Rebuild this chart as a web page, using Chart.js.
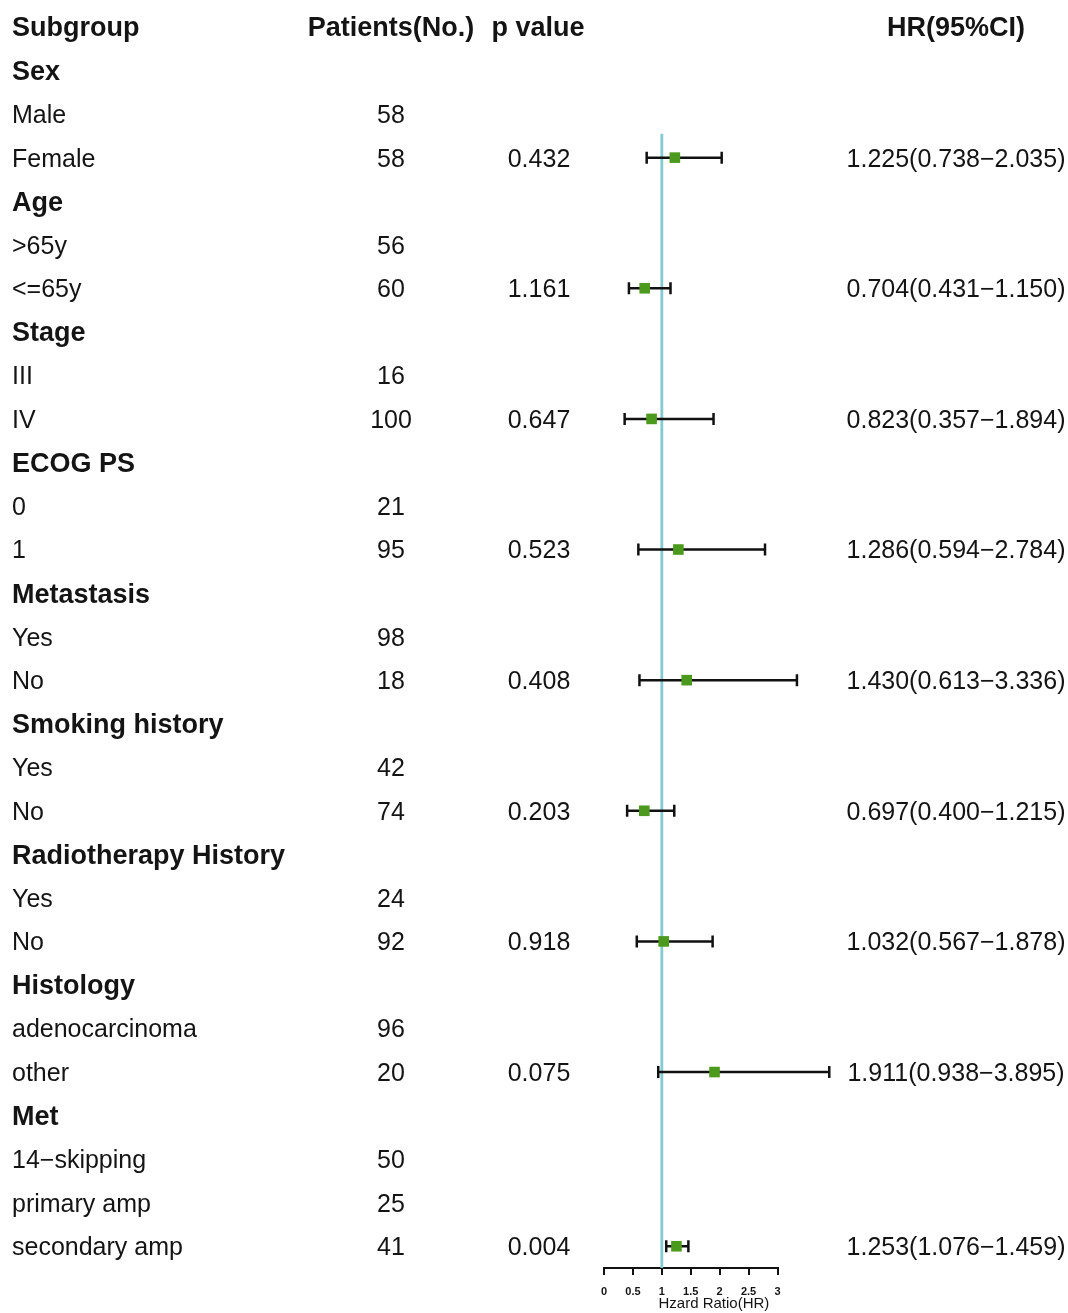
<!DOCTYPE html>
<html>
<head>
<meta charset="utf-8">
<title>Subgroup forest plot</title>
<script src="https://cdn.jsdelivr.net/npm/chart.js@4.4.1/dist/chart.umd.min.js"></script>
<style>
  html, body { margin: 0; padding: 0; background: #ffffff; }
  #wrap { position: relative; width: 1068px; height: 1313px; }
</style>
</head>
<body>
<div id="wrap"><canvas id="forest" width="1068" height="1313"></canvas></div>
<script>
// Table rows (row 0 is the column header line)
const rowLabels = ['Sex', 'Male', 'Female', 'Age', '>65y', '<=65y', 'Stage', 'III', 'IV',
  'ECOG PS', '0', '1', 'Metastasis', 'Yes', 'No', 'Smoking history', 'Yes', 'No',
  'Radiotherapy History', 'Yes', 'No', 'Histology', 'adenocarcinoma', 'other',
  'Met', '14\u2212skipping', 'primary amp', 'secondary amp'];
const headingRows = [1, 4, 7, 10, 13, 16, 19, 22, 25];
const patients = ['', '58', '58', '', '56', '60', '', '16', '100', '', '21', '95', '',
  '98', '18', '', '42', '74', '', '24', '92', '', '96', '20', '', '50', '25', '41'];

// Estimates: table row, p value, hazard ratio and 95% CI
const estRows = [3, 6, 9, 12, 15, 18, 21, 24, 28];
const pValues = ['0.432', '1.161', '0.647', '0.523', '0.408', '0.203', '0.918', '0.075', '0.004'];
const hr = [1.225, 0.704, 0.823, 1.286, 1.430, 0.697, 1.032, 1.911, 1.253];
const ciLow = [0.738, 0.431, 0.357, 0.594, 0.613, 0.400, 0.567, 0.938, 1.076];
const ciHigh = [2.035, 1.150, 1.894, 2.784, 3.336, 1.215, 1.878, 3.895, 1.459];

const xTicks = [0, 0.5, 1, 1.5, 2, 2.5, 3];
const headers = ['Subgroup', 'Patients(No.)', 'p value', 'HR(95%CI)'];
const xTitle = 'Hzard Ratio(HR)';

const FONT = '"Liberation Sans", Arial, Helvetica, sans-serif';
const TEXT = '#141414';
const TEXT_SHIFT = 2; // optical centring of the table text on each row

const points = hr.map((v, i) => ({ x: v, y: estRows[i] }));

// Draws the CI whiskers with end caps (below the squares)
const ciPlugin = {
  id: 'ciBars',
  afterDatasetDraw(chart, args) {
    if (args.index !== 1) return;
    const xs = chart.scales.x, ys = chart.scales.y, ctx = chart.ctx;
    ctx.save();
    ctx.strokeStyle = '#111111';
    ctx.lineWidth = 2.5;
    ctx.lineCap = 'butt';
    hr.forEach((v, i) => {
      const y = ys.getPixelForValue(estRows[i]);
      const x0 = xs.getPixelForValue(ciLow[i]);
      const x1 = xs.getPixelForValue(ciHigh[i]);
      ctx.beginPath();
      ctx.moveTo(x0, y); ctx.lineTo(x1, y);
      ctx.moveTo(x0, y - 6); ctx.lineTo(x0, y + 6);
      ctx.moveTo(x1, y - 6); ctx.lineTo(x1, y + 6);
      ctx.stroke();
    });
    ctx.restore();
  }
};

// Table columns drawn on the rows of the y scale, plus the axis caption
const tablePlugin = {
  id: 'tableText',
  afterDraw(chart) {
    const ys = chart.scales.y, xs = chart.scales.x, ctx = chart.ctx;
    const rowY = r => ys.getPixelForValue(r) + TEXT_SHIFT;
    ctx.save();
    ctx.fillStyle = TEXT;
    ctx.textBaseline = 'middle';
    const bold = 'bold 27px ' + FONT;
    const reg = '25px ' + FONT;
    // header
    let y = rowY(0);
    ctx.font = bold;
    ctx.textAlign = 'left'; ctx.fillText(headers[0], 12, y);
    ctx.textAlign = 'center';
    ctx.fillText(headers[1], 391, y);
    ctx.fillText(headers[2], 538, y);
    ctx.fillText(headers[3], 956, y);
    rowLabels.forEach((lab, i) => {
      const r = i + 1;
      y = rowY(r);
      ctx.font = headingRows.includes(r) ? bold : reg;
      ctx.textAlign = 'left';
      ctx.fillText(lab, 12, y);
      ctx.font = reg;
      if (patients[i]) { ctx.textAlign = 'center'; ctx.fillText(patients[i], 391, y); }
    });
    ctx.font = reg;
    ctx.textAlign = 'center';
    estRows.forEach((r, i) => {
      y = rowY(r);
      ctx.fillText(pValues[i], 539, y);
      const txt = hr[i].toFixed(3) + '(' + ciLow[i].toFixed(3) + '\u2212' + ciHigh[i].toFixed(3) + ')';
      ctx.fillText(txt, 956, y);
    });
    // x-axis caption, sitting under the right half of the tick labels
    ctx.font = '15px ' + FONT;
    ctx.fillText(xTitle, xs.getPixelForValue(1.9), xs.top + 36);
    ctx.restore();
  }
};

new Chart(document.getElementById('forest'), {
  type: 'scatter',
  data: {
    datasets: [
      {
        label: 'HR',
        data: points,
        pointStyle: 'rect',
        pointRadius: 7.5,
        pointHoverRadius: 7.5,
        backgroundColor: '#4b9a1d',
        borderColor: '#4b9a1d',
        borderWidth: 0,
        clip: false
      },
      {
        label: 'HR = 1',
        type: 'line',
        data: [{ x: 1, y: 2.45 }, { x: 1, y: 28.5 }],
        borderColor: '#84cbd1',
        borderWidth: 2.8,
        pointRadius: 0,
        fill: false,
        clip: false
      }
    ]
  },
  options: {
    responsive: false,
    animation: false,
    events: [],
    layout: { autoPadding: false, padding: { left: 604, right: 290.5, top: 0, bottom: 4.8 } },
    plugins: { legend: { display: false }, tooltip: { enabled: false } },
    scales: {
      x: {
        type: 'linear',
        min: 0, max: 3,
        afterBuildTicks(axis) { axis.ticks = xTicks.map(v => ({ value: v })); },
        grid: { drawOnChartArea: false, drawTicks: true, tickLength: 7, color: '#111', lineWidth: 2 },
        border: { display: true, color: '#111', width: 2 },
        ticks: { color: TEXT, font: { family: FONT, size: 11, weight: 'bold' }, padding: 10, maxRotation: 0,
          callback: v => String(v) },
        title: { display: false }
      },
      y: {
        type: 'linear',
        display: false,
        reverse: true,
        min: -0.62, max: 28.5
      }
    }
  },
  plugins: [ciPlugin, tablePlugin]
});
</script>
</body>
</html>
